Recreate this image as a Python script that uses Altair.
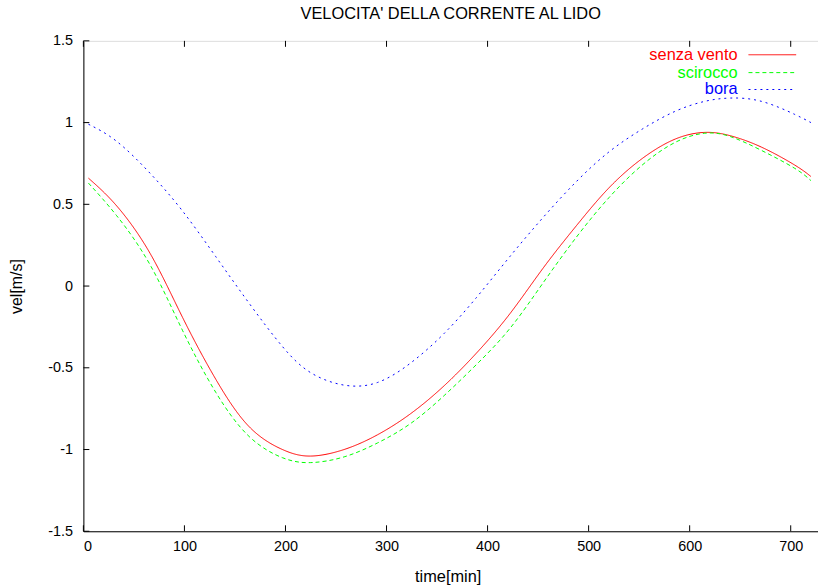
import altair as alt
import pandas as pd

# time [min]
times = [5, 33, 66, 98, 131, 164, 197, 225, 258, 291, 324, 357, 389, 422, 455,
         488, 520, 553, 586, 615, 640, 671, 704, 720]
senza_vento = [0.66, 0.49, 0.20, -0.19, -0.57, -0.86, -1.00, -1.04, -1.00, -0.91,
               -0.78, -0.61, -0.41, -0.17, 0.11, 0.37, 0.60, 0.78, 0.90, 0.94,
               0.92, 0.85, 0.74, 0.67]
scirocco = [0.63, 0.43, 0.13, -0.27, -0.65, -0.92, -1.05, -1.08, -1.045, -0.96,
            -0.84, -0.67, -0.48, -0.26, 0.02, 0.30, 0.54, 0.74, 0.88, 0.935,
            0.915, 0.83, 0.72, 0.645]
bora = [0.99, 0.885, 0.69, 0.46, 0.18, -0.105, -0.37, -0.53, -0.606, -0.59,
        -0.47, -0.29, -0.07, 0.18, 0.42, 0.64, 0.82, 0.96, 1.07, 1.13, 1.15,
        1.13, 1.05, 1.0]

series_names = ["senza vento", "scirocco", "bora"]
series_colors = ["#ff0000", "#00ff00", "#0000ff"]
series_dash = [[1, 0], [4, 3], [2, 4]]

x_ticks = [0, 100, 200, 300, 400, 500, 600, 700]
y_ticks = [-1.5, -1, -0.5, 0, 0.5, 1, 1.5]

W, H = 740, 494
FONT = "Liberation Sans"

rows = []
for name, vals in zip(series_names, [senza_vento, scirocco, bora]):
    for t, v in zip(times, vals):
        rows.append({"serie": name, "time": t, "vel": v})
df = pd.DataFrame(rows)

xscale = alt.Scale(domain=[0, 727], nice=False, zero=False)
yscale = alt.Scale(domain=[-1.5, 1.5], nice=False, zero=False)

lines = alt.Chart(df).mark_line(strokeWidth=1, interpolate="natural", clip=True).encode(
    x=alt.X("time:Q", scale=xscale,
            axis=alt.Axis(values=x_ticks, ticks=False, tickSize=0, grid=False,
                          labelPadding=8, labelFontSize=14.5, labelFont=FONT,
                          labelColor="#000000", domainColor="#000000",
                          title="time[min]", titleFont=FONT, titleFontSize=16.5,
                          titleFontWeight="normal", titleColor="#000000",
                          titleX=367, titleY=46, titleBaseline="middle")),
    y=alt.Y("vel:Q", scale=yscale,
            axis=alt.Axis(values=y_ticks, ticks=False, tickSize=0, grid=False,
                          labelPadding=11, labelFontSize=14.5, labelFont=FONT,
                          labelColor="#000000", domainColor="#000000",
                          labelExpr="toString(datum.value)",
                          title="vel[m/s]", titleFont=FONT, titleFontSize=16,
                          titleFontWeight="normal", titleColor="#000000",
                          titleX=-67, titleY=H / 2, titleAngle=-90,
                          titleAlign="center", titleBaseline="middle")),
    color=alt.Color("serie:N", scale=alt.Scale(domain=series_names, range=series_colors), legend=None),
    strokeDash=alt.StrokeDash("serie:N", scale=alt.Scale(domain=series_names, range=series_dash), legend=None),
    detail="serie:N",
)

xt = pd.DataFrame({"t": x_ticks})
yt = pd.DataFrame({"v": y_ticks})
tick_bottom = alt.Chart(xt).mark_rule(color="#000000", strokeWidth=1).encode(
    x=alt.X("t:Q", scale=xscale), y=alt.value(H), y2=alt.value(H - 6))
tick_top = alt.Chart(xt).mark_rule(color="#000000", strokeWidth=1).encode(
    x=alt.X("t:Q", scale=xscale), y=alt.value(0), y2=alt.value(6))
tick_left = alt.Chart(yt).mark_rule(color="#000000", strokeWidth=1).encode(
    y=alt.Y("v:Q", scale=yscale), x=alt.value(0), x2=alt.value(6))

legend_layers = []
row_y = [14, 32, 49]
for name, col, dash, ry in zip(series_names, series_colors, series_dash, row_y):
    ld = pd.DataFrame({"serie": [name]})
    legend_layers.append(
        alt.Chart(ld).mark_text(align="right", baseline="middle", fontSize=16.5, font=FONT, color=col).encode(
            text="serie:N", x=alt.value(659), y=alt.value(ry)))
    legend_layers.append(
        alt.Chart(ld).mark_rule(color=col, strokeWidth=1, strokeDash=dash).encode(
            x=alt.value(670), x2=alt.value(718), y=alt.value(ry)))

chart = alt.layer(lines, tick_bottom, tick_top, tick_left, *legend_layers).properties(
    width=W, height=H,
    title=alt.TitleParams(text="VELOCITA' DELLA CORRENTE AL LIDO", font=FONT, fontSize=16.5,
                          fontWeight="normal", color="#000000", anchor="middle", offset=11),
    autosize=alt.AutoSizeParams(type="none"),
    padding={"left": 84, "top": 39, "right": 0, "bottom": 55},
).configure_view(stroke="#000000", strokeWidth=1).configure(background="#ffffff")

chart.save("out.html", embed_options={"renderer": "svg", "actions": False})
